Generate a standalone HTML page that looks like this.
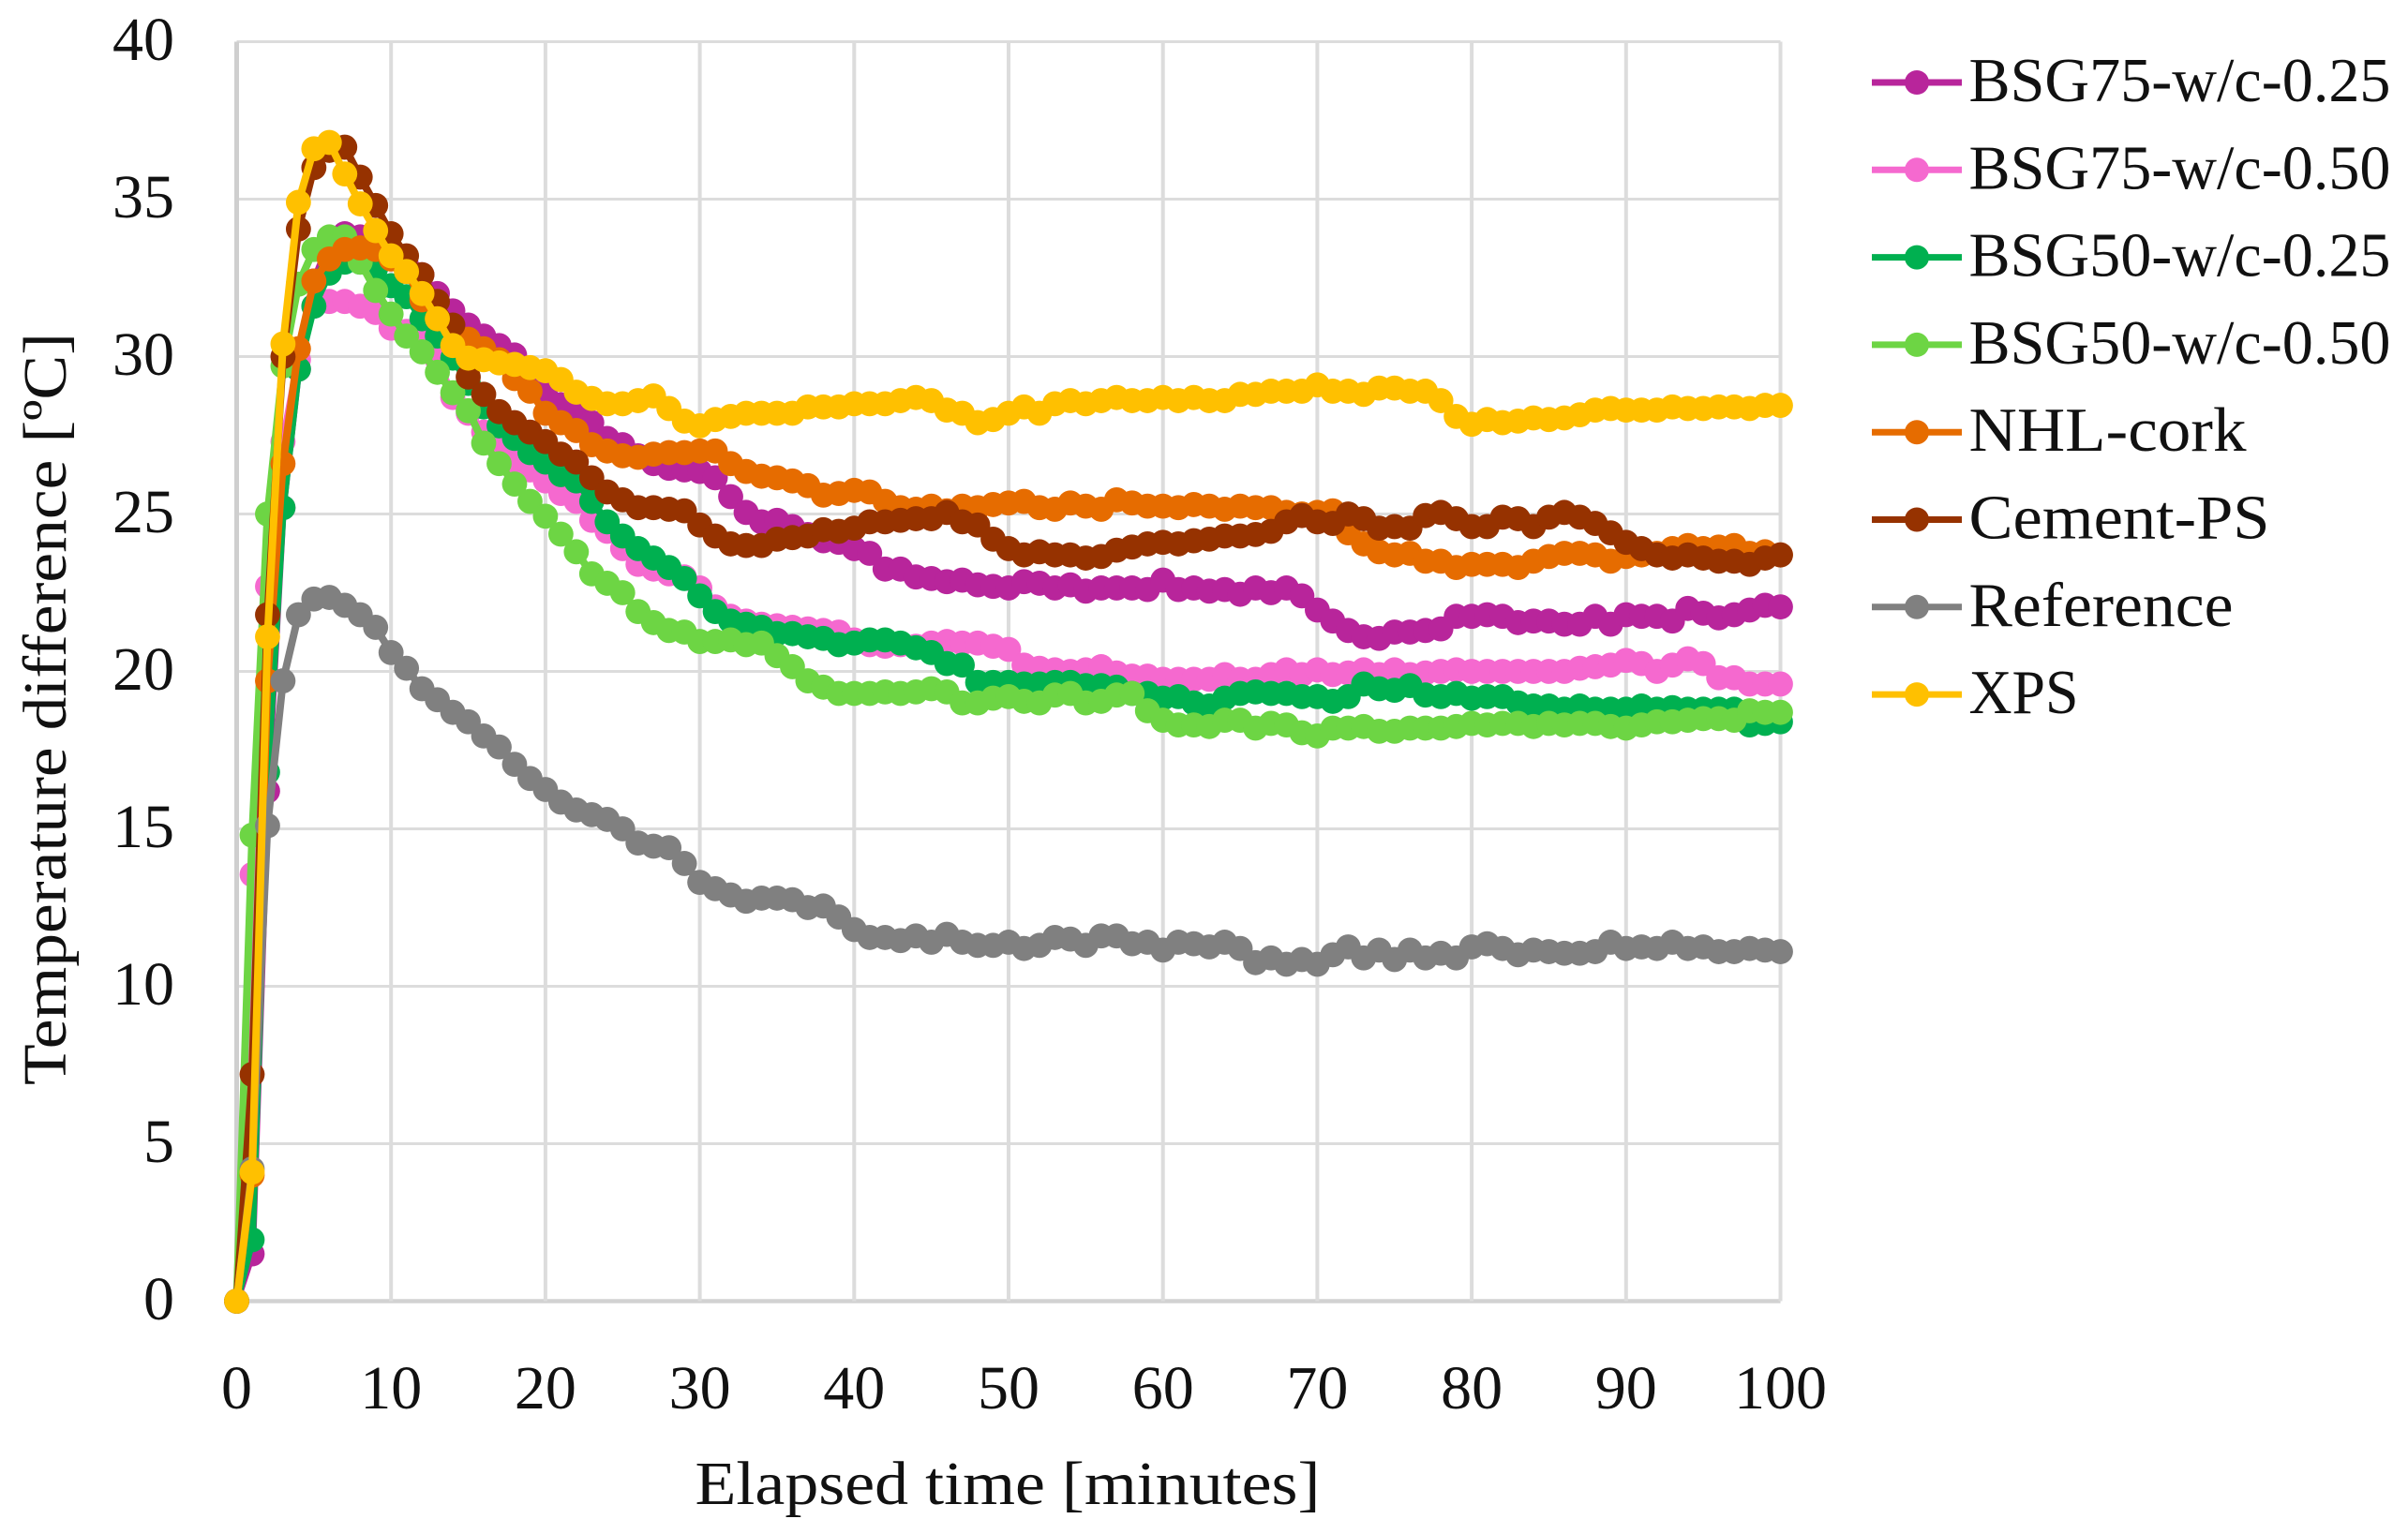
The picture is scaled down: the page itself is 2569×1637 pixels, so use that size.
<!DOCTYPE html>
<html lang="en">
<head>
<meta charset="utf-8">
<title>Temperature difference over elapsed time</title>
<style>
html,body{margin:0;padding:0;background:#fff;}
svg{display:block;}
text{font-family:"Liberation Serif",serif;fill:#111;}
</style>
</head>
<body>
<svg id="chart" xmlns="http://www.w3.org/2000/svg" width="2569" height="1637" viewBox="0 0 2569 1637">
<rect x="0" y="0" width="2569" height="1637" fill="#ffffff"/>
<g id="grid"></g>
<g id="yticks"></g>
<g id="xticks"></g>
<g id="plot"></g>
<g id="legend"></g>
<text x="1075" y="1605" font-size="66" text-anchor="middle" textLength="667" lengthAdjust="spacingAndGlyphs">Elapsed time [minutes]</text>
<text transform="translate(70,756.5) rotate(-90)" font-size="66" text-anchor="middle" textLength="803" lengthAdjust="spacingAndGlyphs">Temperature difference [ºC]</text>
</svg>
<script>
const xTickLabels = [0,10,20,30,40,50,60,70,80,90,100];
const yTickLabels = [0,5,10,15,20,25,30,35,40];
const seriesNames = ["BSG75-w/c-0.25","BSG75-w/c-0.50","BSG50-w/c-0.25","BSG50-w/c-0.50","NHL-cork","Cement-PS","Reference","XPS"];
const seriesColors = ["#B8259B","#F569CF","#00B050","#6DD544","#E66C00","#963200","#808080","#FFC000"];

const bsg75w025 = [0,1.5,16.2,25.2,29.6,32.4,33.6,33.9,33.8,33.5,33.2,32.9,32.6,32.0,31.45,31.0,30.65,30.35,30.05,29.6,28.8,28.47,28.2,27.9,27.4,27.2,26.85,26.6,26.45,26.4,26.35,26.15,25.55,25.05,24.75,24.8,24.6,24.35,24.15,24.1,23.9,23.75,23.25,23.25,23.0,22.95,22.85,22.9,22.75,22.7,22.65,22.85,22.8,22.65,22.75,22.55,22.65,22.65,22.65,22.6,22.9,22.6,22.65,22.55,22.6,22.45,22.65,22.5,22.65,22.4,21.95,21.6,21.3,21.1,21.05,21.25,21.25,21.3,21.35,21.75,21.75,21.8,21.75,21.55,21.6,21.6,21.5,21.5,21.75,21.5,21.8,21.75,21.75,21.6,22.0,21.85,21.7,21.8,21.95,22.1,22.05];
const bsg75w050 = [0,13.55,22.7,27.3,29.9,31.6,31.75,31.75,31.6,31.4,30.9,30.8,30.65,29.9,28.7,28.2,27.6,27.05,26.7,26.4,26.05,25.65,25.4,24.8,24.45,23.9,23.4,23.25,23.1,23.0,22.65,22.05,21.75,21.6,21.5,21.45,21.4,21.35,21.3,21.25,21.0,20.85,20.8,20.85,20.8,20.9,20.95,20.9,20.9,20.8,20.7,20.2,20.1,20.05,20.0,20.05,20.15,19.95,19.85,19.85,19.75,19.75,19.75,19.75,19.9,19.75,19.75,19.9,20.05,19.9,20.05,19.9,19.95,20.05,19.9,20.05,19.9,19.95,20.0,20.05,20.0,20.0,20.0,20.0,20.0,20.0,20.0,20.1,20.15,20.2,20.35,20.25,20.0,20.2,20.4,20.25,19.8,19.8,19.6,19.6,19.6];
const bsg50w025 = [0,1.95,16.8,25.2,29.6,31.6,32.65,33.0,33.0,32.8,32.25,31.9,31.2,30.65,29.95,29.15,28.4,27.8,27.4,26.95,26.65,26.25,26.05,25.4,24.75,24.3,23.9,23.6,23.3,22.95,22.4,21.9,21.6,21.5,21.4,21.2,21.2,21.1,21.05,20.85,20.9,21.0,21.0,20.9,20.75,20.6,20.25,20.2,19.65,19.65,19.65,19.6,19.6,19.65,19.65,19.55,19.55,19.5,19.3,19.3,19.15,19.2,19.0,18.9,19.15,19.3,19.35,19.3,19.3,19.2,19.2,19.05,19.2,19.6,19.45,19.4,19.55,19.25,19.2,19.3,19.15,19.2,19.2,19.0,18.9,18.9,18.8,18.9,18.8,18.8,18.8,18.9,18.8,18.85,18.8,18.8,18.8,18.8,18.3,18.35,18.4];
const bsg50w050 = [0,14.8,25.0,29.7,32.3,33.4,33.8,33.8,33.0,32.1,31.35,30.65,30.15,29.5,28.85,28.28,27.25,26.6,25.95,25.4,24.93,24.36,23.8,23.1,22.8,22.5,21.9,21.55,21.3,21.25,20.95,20.95,21.0,20.85,20.9,20.5,20.15,19.7,19.5,19.3,19.3,19.3,19.35,19.3,19.35,19.45,19.35,19.0,19.0,19.15,19.2,19.05,19.0,19.25,19.3,19.0,19.05,19.25,19.3,18.75,18.45,18.3,18.3,18.25,18.45,18.45,18.2,18.35,18.3,18.05,17.95,18.2,18.2,18.25,18.1,18.1,18.2,18.2,18.2,18.25,18.35,18.3,18.35,18.35,18.25,18.35,18.3,18.35,18.35,18.25,18.2,18.3,18.4,18.4,18.45,18.5,18.5,18.45,18.75,18.7,18.7];
const nhlCork = [0,4.0,19.7,26.6,30.25,32.4,33.1,33.4,33.45,33.4,33.1,32.7,31.8,31.2,30.9,30.55,30.25,29.9,29.3,28.9,28.2,27.9,27.65,27.2,27.0,26.85,26.8,26.9,26.95,26.95,27.0,27.0,26.6,26.35,26.2,26.15,26.05,25.9,25.6,25.65,25.75,25.7,25.4,25.2,25.15,25.25,25.1,25.25,25.2,25.3,25.35,25.4,25.2,25.15,25.35,25.25,25.15,25.45,25.35,25.25,25.25,25.2,25.3,25.25,25.15,25.25,25.2,25.2,25.05,25.0,25.05,25.1,24.4,24.05,23.8,23.7,23.75,23.5,23.5,23.3,23.4,23.4,23.4,23.3,23.5,23.65,23.75,23.75,23.7,23.5,23.65,23.7,23.75,23.9,24.0,23.9,23.95,24.0,23.75,23.8,23.7];
const cementPs = [0,7.2,21.8,30.0,34.05,36.0,36.55,36.65,35.7,34.8,33.9,33.2,32.6,31.75,31.0,29.35,28.8,28.25,27.9,27.6,27.3,26.9,26.65,26.15,25.7,25.45,25.2,25.2,25.15,25.1,24.65,24.3,24.05,24.0,24.0,24.2,24.25,24.3,24.5,24.45,24.55,24.75,24.75,24.8,24.85,24.85,25.05,24.75,24.65,24.2,23.9,23.7,23.8,23.7,23.7,23.6,23.65,23.85,23.95,24.05,24.1,24.05,24.15,24.2,24.3,24.3,24.35,24.45,24.75,24.95,24.75,24.7,25.0,24.85,24.55,24.6,24.55,24.95,25.05,24.85,24.6,24.6,24.9,24.85,24.6,24.9,25.05,24.9,24.7,24.4,24.1,23.9,23.7,23.6,23.7,23.6,23.5,23.5,23.4,23.6,23.7];
const reference = [0,4.2,15.1,19.7,21.8,22.3,22.35,22.1,21.8,21.4,20.6,20.1,19.45,19.1,18.7,18.4,17.95,17.6,17.05,16.6,16.25,15.85,15.6,15.45,15.3,15.0,14.55,14.45,14.4,13.9,13.3,13.1,12.9,12.7,12.8,12.8,12.75,12.5,12.55,12.2,11.8,11.55,11.55,11.45,11.6,11.4,11.65,11.4,11.3,11.3,11.4,11.2,11.3,11.55,11.5,11.3,11.6,11.6,11.35,11.4,11.15,11.4,11.35,11.25,11.4,11.2,10.75,10.9,10.7,10.85,10.7,11.0,11.25,10.9,11.15,10.85,11.15,10.9,11.05,10.9,11.25,11.35,11.2,11.0,11.15,11.1,11.05,11.05,11.1,11.4,11.2,11.25,11.2,11.4,11.2,11.25,11.1,11.1,11.2,11.15,11.1];
const xps = [0,4.1,21.1,30.4,34.9,36.6,36.8,35.8,34.85,34.0,33.2,32.7,32.0,31.2,30.35,29.95,29.9,29.8,29.75,29.65,29.55,29.27,28.87,28.67,28.5,28.5,28.6,28.75,28.35,27.95,27.8,28.0,28.1,28.2,28.2,28.2,28.2,28.4,28.4,28.4,28.5,28.5,28.5,28.6,28.7,28.6,28.3,28.2,27.9,28.0,28.2,28.4,28.2,28.5,28.6,28.5,28.6,28.7,28.6,28.6,28.7,28.6,28.7,28.6,28.6,28.8,28.8,28.9,28.9,28.9,29.1,28.9,28.9,28.8,29.0,29.0,28.9,28.9,28.6,28.1,27.85,28.0,27.9,27.95,28.05,28.0,28.05,28.15,28.3,28.35,28.3,28.3,28.3,28.4,28.35,28.35,28.4,28.4,28.35,28.45,28.45];

const seriesValues = [bsg75w025,bsg75w050,bsg50w025,bsg50w050,nhlCork,cementPs,reference,xps];

const SVGNS = "http://www.w3.org/2000/svg";
function xScale(t){ return 252.5 + (t - 0) * (1899.5 - 252.5) / 100; }
function yScale(v){ return 1388.5 - v * (1388.5 - 44.5) / 40; }
function make(tag, attrs, parent){
  const el = document.createElementNS(SVGNS, tag);
  for (const k in attrs) el.setAttribute(k, attrs[k]);
  parent.appendChild(el);
  return el;
}
function slug(s){ return s.toLowerCase().replace(/[^a-z0-9]+/g, '-'); }

const gridG = document.getElementById('grid');
yTickLabels.forEach(function(v){
  const line = make('line', {x1:xScale(0), x2:xScale(100), y1:yScale(v), y2:yScale(v), stroke: v===0 ? '#D2D2D2' : '#DCDCDC', 'stroke-width': v===0 ? 4.5 : 3}, gridG);
  
  
});
xTickLabels.forEach(function(t){
  const line = make('line', {x1:xScale(t), x2:xScale(t), y1:yScale(40), y2:yScale(0), stroke: t===0 ? '#CFCFCF' : '#DCDCDC', 'stroke-width': t===0 ? 5 : 4}, gridG);
  
  
});

const yG = document.getElementById('yticks');
yTickLabels.forEach(function(v){
  const tx = make('text', {x:186, y:yScale(v)+19.5, 'font-size':66, 'text-anchor':'end'}, yG);
  
  
  tx.textContent = v;
});
const xG = document.getElementById('xticks');
xTickLabels.forEach(function(t){
  const tx = make('text', {x:xScale(t), y:1503, 'font-size':66, 'text-anchor':'middle'}, xG);
  
  
  tx.textContent = t;
});

const plotG = document.getElementById('plot');
seriesValues.forEach(function(vals, i){
  const g = make('g', {}, plotG);
  
  
  const pts = vals.map(function(v, t){ return xScale(t).toFixed(1) + ',' + yScale(v).toFixed(1); }).join(' ');
  const pl = make('polyline', {points:pts, fill:'none', stroke:seriesColors[i], 'stroke-width':8, 'stroke-linejoin':'round'}, g);
  
  
  vals.forEach(function(v, t){
    const c = make('circle', {cx:xScale(t), cy:yScale(v), r:13.4, fill:seriesColors[i]}, g);
    
    
  });
});

const legendG = document.getElementById('legend');
const legendWidths = [450,450,450,450,296,321,282,117];
seriesNames.forEach(function(name, i){
  const cy = 88 + i * 93.3;
  const g = make('g', {}, legendG);
  
  
  const ln = make('line', {x1:1997, x2:2093, y1:cy, y2:cy, stroke:seriesColors[i], 'stroke-width':7}, g);
  
  
  const mk = make('circle', {cx:2045, cy:cy, r:13, fill:seriesColors[i]}, g);
  
  
  const tx = make('text', {x:2100.5, y:cy+20, 'font-size':67, textLength:legendWidths[i], lengthAdjust:'spacingAndGlyphs'}, g);
  
  
  tx.textContent = name;
});
</script>
</body>
</html>
